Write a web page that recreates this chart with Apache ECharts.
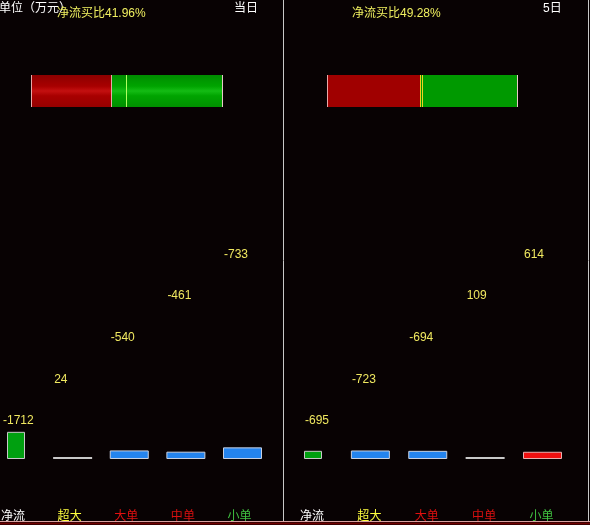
<!DOCTYPE html>
<html>
<head>
<meta charset="utf-8">
<script src="https://cdn.jsdelivr.net/npm/echarts@6/dist/echarts.min.js"></script>
<style>
html,body{margin:0;padding:0;background:#080203;}
#chart{width:590px;height:525px;}
</style>
</head>
<body>
<div id="chart"></div>
<script>
// ---- data ----
const categories = ['净流', '超大', '大单', '中单', '小单'];
const todayValues = [-1712, 24, -540, -461, -733];
const fiveDayValues = [-695, -723, -694, 109, 614];
const buyRatios = [41.96, 49.28];
const panelTitles = ['当日', '5日'];
const unitLabel = '单位（万元）';
const ratioLabel = '净流买比';

// ---- layout / style ----
const FONT = '"Liberation Sans", "Noto Sans CJK SC", sans-serif';
const catColors = ['#ffffff', '#ffff40', '#e01010', '#d81010', '#40c040'];
const panels = [
  { values: todayValues, gridLeft: 16, gridWidth: 226.5, yMax: 12600, barLeft: 31, barW: 191, titleX: 234, ratioX: 57, netDx: -4, labelPad: 6, gradient: true },
  { values: fiveDayValues, gridLeft: 313, gridWidth: 229.5, yMax: 17000, barLeft: 327, barW: 190, titleX: 543, ratioX: 352, netDx: 1, labelPad: 2, gradient: false }
];

function compColor(v) {
  if (Math.abs(v) < 200) return '#c8c8c8';
  return v < 0 ? '#2484ee' : '#f01010';
}
function compBorder(v) {
  return v < 0 ? '#c8d0e0' : '#e8b0b0';
}

const grid = [], xAxis = [], yAxis = [], series = [], title = [];
const titleStyle = (c) => ({ color: c, fontSize: 12, fontWeight: 'normal', fontFamily: FONT });
title.push({ text: unitLabel, left: -1, top: 3, padding: 0, textStyle: titleStyle('#ffffff') });

panels.forEach((p, pi) => {
  // bottom bar grid
  const gB = grid.length;
  grid.push({ left: p.gridLeft, width: p.gridWidth, top: 259, height: 200, containLabel: false, outerBoundsMode: 'none' });
  const xComp = xAxis.length;
  xAxis.push({
    type: 'category', gridIndex: gB, data: categories, boundaryGap: false,
    axisLine: { show: false }, axisTick: { show: false }, splitLine: { show: false },
    axisLabel: { show: true, margin: 52, fontSize: 12, fontFamily: FONT, interval: 0, padding: [0, p.labelPad, 0, 0],
      color: (val) => catColors[categories.indexOf(val)] }
  });
  const xNet = xAxis.length;
  xAxis.push({ type: 'category', gridIndex: gB, data: categories, boundaryGap: false, show: false });
  const yB = yAxis.length;
  yAxis.push({ type: 'value', gridIndex: gB, min: 0, max: p.yMax, show: false, splitLine: { show: false } });

  const mkItem = (v, i, isNet) => {
    const small = !isNet && Math.abs(v) < 200;
    return {
      value: Math.abs(v),
      raw: v,
      itemStyle: {
        color: isNet ? (v < 0 ? '#00a010' : '#f01010') : compColor(v),
        borderColor: isNet ? '#c8c8c8' : compBorder(v),
        borderWidth: small ? 0 : 1
      },
      label: { offset: [isNet ? p.netDx : 1, -(32 + 41.7 * i)] }
    };
  };
  const labelCfg = {
    show: true, position: 'insideBottomLeft', distance: 0,
    color: '#f0e860', fontSize: 12, fontFamily: FONT,
    formatter: (prm) => String(prm.data.raw)
  };
  series.push({
    type: 'bar', xAxisIndex: xNet, yAxisIndex: yB, barWidth: 18, barMinHeight: 2, clip: false,
    data: p.values.map((v, i) => i === 0 ? mkItem(v, i, true) : '-'),
    label: labelCfg, silent: true
  });
  series.push({
    type: 'bar', xAxisIndex: xComp, yAxisIndex: yB, barWidth: 39, barMinHeight: 2, clip: false,
    data: p.values.map((v, i) => i === 0 ? '-' : mkItem(v, i, false)),
    label: labelCfg, silent: true
  });

  // top ratio bar
  const gT = grid.length;
  grid.push({ left: p.barLeft, width: p.barW, top: 75, height: 32, containLabel: false, outerBoundsMode: 'none' });
  const xT = xAxis.length;
  xAxis.push({ type: 'value', gridIndex: gT, min: 0, max: 100, show: false, splitLine: { show: false } });
  const yT = yAxis.length;
  yAxis.push({ type: 'category', gridIndex: gT, data: [ratioLabel], show: false });
  const ratio = buyRatios[pi];
  const redFill = p.gradient ? new echarts.graphic.LinearGradient(0, 0, 0, 1, [
    { offset: 0, color: '#8c0000' }, { offset: 0.35, color: '#a80000' }, { offset: 0.5, color: '#c41010' },
    { offset: 0.65, color: '#a80000' }, { offset: 1, color: '#960000' }]) : '#a00000';
  const greenFill = p.gradient ? new echarts.graphic.LinearGradient(0, 0, 0, 1, [
    { offset: 0, color: '#008c00' }, { offset: 0.35, color: '#00a400' }, { offset: 0.5, color: '#14bc14' },
    { offset: 0.65, color: '#00a400' }, { offset: 1, color: '#009000' }]) : '#009900';
  series.push({
    type: 'bar', xAxisIndex: xT, yAxisIndex: yT, stack: 'ratio' + pi, barWidth: 32, silent: true,
    data: [ratio], itemStyle: { color: redFill }
  });
  series.push({
    type: 'bar', xAxisIndex: xT, yAxisIndex: yT, stack: 'ratio' + pi, barWidth: 32, silent: true,
    data: [100 - ratio], itemStyle: { color: greenFill },
    markLine: {
      silent: true, symbol: 'none', label: { show: false },
      data: [
        { xAxis: 0, lineStyle: { color: '#e8a8a8', width: 1, type: 'solid' } },
        { xAxis: ratio, lineStyle: { color: p.gradient ? '#e8a8a8' : '#f0d020', width: 1, type: 'solid' } },
        { xAxis: 50, lineStyle: { color: p.gradient ? '#b0ff60' : '#f0d020', width: 1, type: 'solid' } },
        { xAxis: 100, lineStyle: { color: '#e8c8c8', width: 1, type: 'solid' } }
      ]
    }
  });

  title.push({ text: ratioLabel + ratio.toFixed(2) + '%', left: p.ratioX, top: 8, padding: 0, textStyle: titleStyle('#f0f060') });
  title.push({ text: panelTitles[pi], left: p.titleX, top: 3, padding: 0, textStyle: titleStyle('#ffffff') });
});

const chart = echarts.init(document.getElementById('chart'), null, { renderer: 'canvas' });
chart.setOption({
  backgroundColor: '#080203',
  animation: false,
  title, grid, xAxis, yAxis, series,
  graphic: [
    { type: 'line', shape: { x1: 283.5, y1: 0, x2: 283.5, y2: 521 }, style: { stroke: '#c8c8c8', lineWidth: 1 }, silent: true },
    { type: 'line', shape: { x1: 588.5, y1: 0, x2: 588.5, y2: 521 }, style: { stroke: '#c8c8c8', lineWidth: 1 }, silent: true },
    { type: 'line', shape: { x1: 0, y1: 521.5, x2: 590, y2: 521.5 }, style: { stroke: '#d8a0a0', lineWidth: 1 }, silent: true },
    { type: 'line', shape: { x1: 0, y1: 523.5, x2: 590, y2: 523.5 }, style: { stroke: '#700000', lineWidth: 2 }, silent: true }
  ]
});
</script>
</body>
</html>
